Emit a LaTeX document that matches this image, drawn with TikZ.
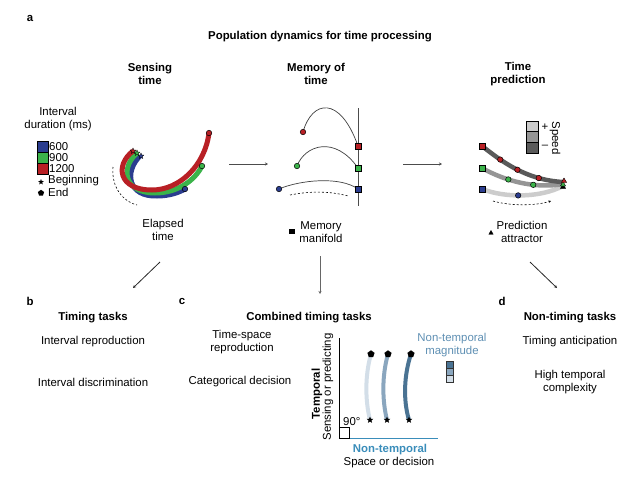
\documentclass[tikz,border=0pt]{standalone}
\usepackage{fontspec}
\setmainfont{Liberation Sans}
\usetikzlibrary{shapes.geometric,arrows.meta}
\definecolor{cblue}{HTML}{2B3D8F}
\definecolor{cgreen}{HTML}{3BB34A}
\definecolor{cred}{HTML}{B82025}
\definecolor{gdark}{HTML}{5A5A5A}
\definecolor{gmid}{HTML}{959595}
\definecolor{glight}{HTML}{CCCCCC}
\definecolor{teal}{HTML}{3A8DBA}
\definecolor{tealL}{HTML}{5E8FB3}
\definecolor{bl1}{HTML}{D3DEE8}
\definecolor{bl2}{HTML}{8AA6BE}
\definecolor{bl3}{HTML}{4A7393}
\begin{document}
\begin{tikzpicture}[x=1pt,y=-1pt,
 font=\fontsize{11.4}{12.6}\selectfont,
 txt/.style={inner sep=0pt, align=center},
 hdr/.style={txt, font=\fontsize{11.4}{12.6}\selectfont\bfseries},
 band/.style={line width=5pt},
 dot/.style={circle, draw=black, line width=0.5pt, inner sep=0pt, minimum size=5.5pt},
 sq/.style={rectangle, draw=black, line width=0.5pt, inner sep=0pt, minimum size=6pt},
 starm/.style={star, star points=5, star point ratio=2.3, fill=black, inner sep=0pt, minimum size=7pt},
 pent/.style={regular polygon, regular polygon sides=5, fill=black, inner sep=0pt, minimum size=7.5pt},
 tri/.style={regular polygon, regular polygon sides=3, draw=black, line width=0.4pt, inner sep=0pt, minimum size=6pt},
 conn/.style={line width=0.8pt, -{Stealth[length=3pt,width=3pt]}},
 arcline/.style={line width=0.7pt, draw=black!75},
 dashedarc/.style={line width=0.6pt, dash pattern=on 2pt off 2pt}
]
\useasboundingbox (0,0) rectangle (640,477);

% ---------- panel a ----------
\node[hdr] (la) at (30,18) {a};
\node[hdr] (title) at (320,37) {Population dynamics for time processing};
\node[hdr] (h1) at (150,74) {Sensing\\time};
\node[hdr] (h2) at (316,74) {Memory of\\time};
\node[hdr] (h3) at (518,74) {Time\\prediction};

% legend
\node[txt] (leg) at (58,119) {Interval\\duration (ms)};
\node[sq, fill=cblue, minimum width=11pt, minimum height=11pt] (s600) at (42.5,146.5) {};
\node[sq, fill=cgreen, minimum width=11pt, minimum height=11pt] (s900) at (42.5,157.5) {};
\node[sq, fill=cred, minimum width=11pt, minimum height=11pt] (s1200) at (42.5,168.5) {};
\node[txt, anchor=west] (t600) at (49,146.5) {600};
\node[txt, anchor=west] (t900) at (49,157.5) {900};
\node[txt, anchor=west] (t1200) at (49,168.5) {1200};
\node[starm, minimum size=6pt] (lstar) at (41,182) {};
\node[txt, anchor=west] (tbeg) at (48,181) {Beginning};
\node[pent, minimum size=6.5pt] (lpent) at (41,193) {};
\node[txt, anchor=west] (tend) at (48,192) {End};

% sensing trajectories
\draw[band, cblue] (140,156) .. controls (124,172) and (128,197) .. (157,196) .. controls (170,196) and (180,192) .. (185,189);
\draw[band, cgreen] (137,153) .. controls (120,168) and (124,193) .. (155,193) .. controls (178,193) and (195,180) .. (202,166);
\draw[band, cred] (133,151) .. controls (115,165) and (118,190) .. (152,190) .. controls (180,190) and (205,165) .. (209,133);
\node[dot, fill=cblue] (eb) at (185,189) {};
\node[dot, fill=cgreen] (eg) at (202,166) {};
\node[dot, fill=cred] (er) at (209,133) {};
\node[starm, minimum size=6pt, fill=cblue, draw=black, line width=0.3pt] (sb) at (141,156) {};
\node[starm, minimum size=6pt, fill=cgreen, draw=black, line width=0.3pt] (sg) at (137,153) {};
\node[starm, minimum size=6pt, fill=cred, draw=black, line width=0.3pt] (sr) at (133,151) {};
\draw[dashedarc] (113,167) .. controls (111,188) and (124,202) .. (137,205);
\node[txt] (elapsed) at (163,230) {Elapsed\\time};

% memory panel
\coordinate (mtop) at (358,108);
\coordinate (mbot) at (358,206);
\draw[line width=0.7pt, black!70] (mtop) -- (mbot);
\draw[arcline] (303,132) .. controls (312,100) and (340,95) .. (358,146);
\draw[arcline] (297,166) .. controls (305,145) and (335,135) .. (358,168);
\draw[arcline] (279,189) .. controls (300,180) and (340,176) .. (358,189);
\node[sq, fill=cred] (mr) at (358,146) {};
\node[sq, fill=cgreen] (mg) at (358,168) {};
\node[sq, fill=cblue] (mb) at (358,189) {};
\node[dot, fill=cred] (cr) at (303,132) {};
\node[dot, fill=cgreen] (cg) at (297,166) {};
\node[dot, fill=cblue] (cb) at (279,189) {};
\draw[dashedarc] (290,195) .. controls (310,191) and (330,191) .. (348,196);
\node[rectangle, fill=black, inner sep=0pt, minimum width=6pt, minimum height=5pt] (mman) at (292,231) {};
\node[txt] (mmantxt) at (321,232) {Memory\\manifold};

% prediction panel
\draw[band, glight, line width=4.5pt] (482,189) .. controls (505,198) and (540,198) .. (563,186)
  node[dot, fill=cblue, pos=0.45] (pb1) {};
\draw[band, gmid, line width=4.5pt] (482,168) .. controls (505,181) and (535,189) .. (563,184)
  node[dot, fill=cgreen, pos=0.35] (pg1) {}
  node[dot, fill=cgreen, pos=0.65] (pg2) {};
\draw[band, gdark, line width=4.5pt] (482,146) .. controls (500,160) and (525,180) .. (563,182)
  node[dot, fill=cred, pos=0.3] (pr1) {}
  node[dot, fill=cred, pos=0.53] (pr2) {}
  node[dot, fill=cred, pos=0.77] (pr3) {};
\node[sq, fill=cred] (pr0) at (482,146) {};
\node[sq, fill=cgreen] (pg0) at (482,168) {};
\node[sq, fill=cblue] (pb0) at (482,189) {};
\node[tri, fill=black] (tk) at (563,187) {};
\node[tri, fill=cgreen] (tg) at (563,184.5) {};
\node[tri, fill=cred] (tr) at (564,181) {};
\draw[dashedarc, -{Stealth[length=2.5pt,width=2.5pt]}] (493,201) .. controls (510,206) and (535,206) .. (551,201);
% speed legend
\node[sq, fill=glight, minimum width=12pt, minimum height=10.7pt] (sp1) at (532,126.3) {};
\node[sq, fill=gmid, minimum width=12pt, minimum height=10.7pt] (sp2) at (532,137) {};
\node[sq, fill=gdark, minimum width=12pt, minimum height=10.7pt] (sp3) at (532,147.7) {};
\node[txt] (plus) at (545,127) {+};
\node[txt] (minus) at (545,147) {–};
\node[txt, rotate=-90] (speed) at (555,138) {Speed};
\node[tri, fill=black, minimum size=5pt] (ptri) at (491,233) {};
\node[txt] (predtxt) at (522,232) {Prediction\\attractor};

% connectors
\coordinate (a1s) at (229,164); \coordinate (a1e) at (268,164);
\coordinate (a2s) at (403,164); \coordinate (a2e) at (442,164);
\draw[conn, black!70] (a1s) -- (a1e);
\draw[conn, black!70] (a2s) -- (a2e);
\coordinate (d1s) at (160,262); \coordinate (d1e) at (133,288);
\coordinate (d2s) at (320,256); \coordinate (d2e) at (320,294);
\coordinate (d3s) at (530,262); \coordinate (d3e) at (557,288);
\draw[conn, black!85] (d1s) -- (d1e);
\draw[conn, black!60] (d2s) -- (d2e);
\draw[conn, black!85] (d3s) -- (d3e);

% ---------- panel b ----------
\node[hdr] (lb) at (30,301) {b};
\node[hdr] (hb) at (93,318) {Timing tasks};
\node[txt] (b1) at (93,342) {Interval reproduction};
\node[txt] (b2) at (93,382) {Interval discrimination};

% ---------- panel c ----------
\node[hdr] (lc) at (182,301) {c};
\node[hdr] (hc) at (309,318) {Combined timing tasks};
\node[txt] (c1) at (242,342) {Time-space\\reproduction};
\node[txt] (c2) at (240,382) {Categorical decision};
\coordinate (orig) at (339,438);
\coordinate (ytop) at (339,338);
\coordinate (xend) at (438,438);
\draw[line width=0.8pt, black] (orig) -- (ytop);
\draw[line width=0.8pt, teal] (orig) -- (xend);
\draw[line width=0.6pt, black] (339,427) rectangle (349,438);
\node[txt, anchor=west] (ninety) at (343,422) {90°};
\node[hdr, rotate=90] (temporal) at (317,394) {Temporal};
\node[txt, rotate=90] (senspred) at (328,387) {Sensing or predicting};
\node[hdr, text=teal] (nontemp) at (390,450) {Non-temporal};
\node[txt] (spacedec) at (389,463) {Space or decision};
\draw[line width=4pt, bl1] (371,354) .. controls (365,375) and (365,400) .. (370,420);
\draw[line width=4pt, bl2] (388,354) .. controls (382,375) and (382,400) .. (387,420);
\draw[line width=4pt, bl3] (411,354) .. controls (404,375) and (403,400) .. (409,420);
\node[pent] (p1) at (371,354) {};
\node[pent] (p2) at (388,354) {};
\node[pent] (p3) at (411,354) {};
\node[starm] (st1) at (370,420) {};
\node[starm] (st2) at (387,420) {};
\node[starm] (st3) at (409,420) {};
\node[txt, text=tealL] (ntm) at (452,345) {Non-temporal\\magnitude};
\node[sq, fill=bl3, draw=black!80, minimum width=7pt, minimum height=7pt] (m3) at (449.5,364.5) {};
\node[sq, fill=bl2, draw=black!80, minimum width=7pt, minimum height=7pt] (m2) at (449.5,371.5) {};
\node[sq, fill=bl1, draw=black!80, minimum width=7pt, minimum height=7pt] (m1) at (449.5,378.5) {};

% ---------- panel d ----------
\node[hdr] (ld) at (502,301) {d};
\node[hdr] (hd) at (570,318) {Non-timing tasks};
\node[txt] (d1) at (570,342) {Timing anticipation};
\node[txt] (d2) at (570,382) {High temporal\\complexity};
\end{tikzpicture}
\end{document}
